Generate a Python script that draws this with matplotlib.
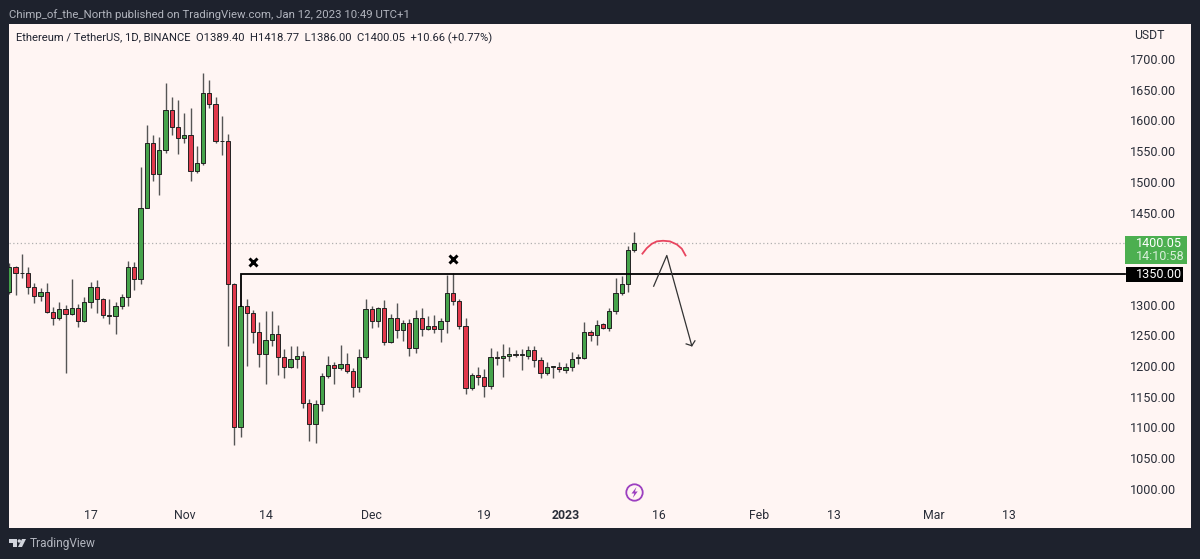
import numpy as np
import pandas as pd
import matplotlib
matplotlib.use('Agg')
import matplotlib.pyplot as plt
import matplotlib.dates as mdates
from matplotlib.patches import Rectangle, Circle, Polygon

plt.rcParams['font.family'] = ['Roboto', 'DejaVu Sans']

# daily candles, 4 Oct 2022 - 12 Jan 2023
opens = [1321, 1361, 1351, 1351, 1329, 1314, 1321, 1288, 1279, 1293,
         1285, 1295, 1273, 1304, 1329, 1309, 1283, 1281, 1297, 1312,
         1362, 1342, 1458, 1564, 1512, 1552, 1617, 1589, 1572, 1577,
         1517, 1530, 1644, 1626, 1567, 1566, 1334, 1101, 1297, 1287,
         1256, 1220, 1242, 1252, 1215, 1199, 1211, 1216, 1140, 1106,
         1138, 1183, 1202, 1197, 1203, 1192, 1166, 1214, 1293, 1274,
         1294, 1239, 1278, 1258, 1270, 1230, 1279, 1261, 1265, 1261,
         1274, 1319, 1306, 1265, 1165, 1186, 1182, 1167, 1215, 1213,
         1217, 1219, 1218, 1217, 1226, 1209, 1189, 1199, 1198, 1194,
         1199, 1213, 1213, 1255, 1250, 1268, 1262, 1289, 1319, 1334, 1389.40]
highs = [1368, 1363, 1382, 1361, 1336, 1327, 1336, 1296, 1305, 1299,
         1341, 1301, 1313, 1337, 1340, 1311, 1309, 1305, 1318, 1371,
         1369, 1524, 1593, 1577, 1573, 1661, 1638, 1634, 1612, 1621,
         1558, 1678, 1666, 1638, 1607, 1578, 1335, 1299, 1309, 1291,
         1272, 1290, 1290, 1267, 1227, 1233, 1233, 1225, 1146, 1144,
         1188, 1216, 1206, 1234, 1222, 1196, 1227, 1309, 1298, 1296,
         1308, 1285, 1303, 1275, 1277, 1291, 1295, 1281, 1283, 1279,
         1349, 1351, 1309, 1279, 1188, 1199, 1195, 1229, 1224, 1236,
         1231, 1226, 1227, 1232, 1232, 1215, 1206, 1200, 1207, 1205,
         1223, 1219, 1271, 1259, 1275, 1270, 1294, 1344, 1346, 1395, 1418.77]
lows = [1318, 1316, 1344, 1317, 1303, 1306, 1287, 1266, 1275, 1189,
        1283, 1263, 1272, 1295, 1286, 1279, 1269, 1252, 1293, 1298,
        1323, 1334, 1457, 1502, 1479, 1547, 1576, 1545, 1563, 1501,
        1514, 1527, 1621, 1563, 1544, 1232, 1072, 1084, 1200, 1238,
        1199, 1170, 1233, 1185, 1180, 1197, 1196, 1132, 1078, 1074,
        1126, 1180, 1170, 1193, 1188, 1150, 1157, 1212, 1262, 1264,
        1235, 1238, 1245, 1240, 1217, 1221, 1249, 1259, 1254, 1239,
        1254, 1300, 1260, 1154, 1161, 1169, 1150, 1162, 1202, 1182,
        1208, 1214, 1193, 1212, 1199, 1180, 1185, 1180, 1190, 1189,
        1192, 1204, 1212, 1241, 1234, 1260, 1257, 1284, 1316, 1320, 1386.00]
closes = [1361, 1351, 1352, 1329, 1314, 1321, 1288, 1279, 1293, 1285,
          1295, 1273, 1304, 1329, 1309, 1283, 1281, 1297, 1312, 1362,
          1342, 1458, 1564, 1512, 1552, 1617, 1589, 1572, 1577, 1517,
          1530, 1644, 1626, 1567, 1567, 1334, 1101, 1297, 1287, 1256,
          1220, 1242, 1252, 1215, 1199, 1211, 1216, 1140, 1106, 1138,
          1183, 1202, 1197, 1203, 1192, 1166, 1214, 1293, 1274, 1294,
          1239, 1278, 1258, 1270, 1230, 1279, 1261, 1265, 1261, 1274,
          1319, 1306, 1265, 1165, 1186, 1182, 1167, 1215, 1213, 1217,
          1219, 1218, 1219, 1226, 1209, 1189, 1199, 1200, 1195, 1199,
          1212, 1214, 1255, 1250, 1267, 1262, 1289, 1319, 1334, 1389.40, 1400.05]

# 1350 and 1400 sit under the price tags, so they get no label of their own
price_ticks = [1000, 1050, 1100, 1150, 1200, 1250, 1300, 1450,
               1500, 1550, 1600, 1650, 1700]
date_ticks = ['2022-10-17', '2022-11-01', '2022-11-14', '2022-12-01', '2022-12-19',
              '2023-01-01', '2023-01-16', '2023-02-01', '2023-02-13', '2023-03-01', '2023-03-13']
date_labels = ['17', 'Nov', '14', 'Dec', '19', '2023', '16', 'Feb', '13', 'Mar', '13']

# hand drawings, x = days after first candle
level = 1350
level_x = [37, 37, 178.5]
level_y = [1297, level, level]
cross_x = [39, 71]
cross_y = [1370, 1374]
arc_x = [101.3, 102, 102.8, 103.6, 104.6, 105.7, 106.8, 107.6, 108.2]
arc_y = [1383, 1392, 1399, 1403, 1404, 1403, 1398, 1391, 1380]
arrow_x = [103.1, 105.2, 109.2]
arrow_y = [1330, 1380, 1233]
head_x = [108.3, 109.2, 109.7]
head_y = [1236, 1233, 1241]

BG = '#1e222d'
PANEL = '#fff5f3'
GREEN = '#46a34b'
RED = '#e2394c'
W, H = 1200, 559

opens = np.array(opens)
closes = np.array(closes)
highs = np.array(highs)
lows = np.array(lows)
dates = pd.date_range('2022-10-04', periods=len(opens))
x = mdates.date2num(dates)
d0 = x[0]
px_per_day = 6.25

fig = plt.figure(figsize=(W / 100, H / 100), dpi=100, facecolor=BG)
ax = fig.add_axes([9 / W, 1 - 527.5 / H, (1191 - 9) / W, (527.5 - 24) / H], facecolor=PANEL)
ax.set_xlim(d0 + (9 - 9.3) / px_per_day, d0 + (1191 - 9.3) / px_per_day)
ax.set_ylim(937, 1757)
for s in ax.spines.values():
    s.set_visible(False)

ax.axhline(closes[-1], color='#b0b0b0', lw=0.9, ls=(0, (1, 2)), xmax=(1125 - 9) / (1191 - 9), zorder=1)

# candles
colors = [GREEN if c >= o else RED for o, c in zip(opens, closes)]
ax.vlines(x, lows, highs, color='#555555', lw=1.0, zorder=2)
ax.bar(x, np.abs(closes - opens), bottom=np.minimum(opens, closes), width=0.68,
       color=colors, edgecolor='#222222', linewidth=0.7, zorder=3)

# drawings
ax.plot(d0 + np.array(level_x), level_y, color='black', lw=1.3, zorder=4, solid_joinstyle='miter')
ax.plot(d0 + np.array(cross_x), cross_y, ls='none', marker='x', ms=6, mew=2.1, color='black', zorder=4)
ax.plot(d0 + np.array(arc_x), arc_y, color='#e8455f', lw=1.3, zorder=4)
ax.plot(d0 + np.array(arrow_x), arrow_y, color='#333333', lw=0.9, zorder=4)
ax.plot(d0 + np.array(head_x), head_y, color='#333333', lw=0.9, zorder=4)

ax.yaxis.tick_right()
ax.set_yticks(price_ticks)
ax.set_yticklabels(['%.2f' % p for p in price_ticks])
ax.tick_params(axis='y', length=0, pad=-11, labelsize=9.1, labelcolor='#2a2e39')
for t in ax.get_yticklabels():
    t.set_ha('right')
ax.set_xticks(mdates.date2num(pd.to_datetime(date_ticks)))
ax.set_xticklabels(date_labels)
ax.tick_params(axis='x', length=0, pad=-8.3, labelsize=8.8, labelcolor='#2a2e39')
for t, lab in zip(ax.get_xticklabels(), date_labels):
    t.set_va('center')
    if lab == '2023':
        t.set_fontweight('bold')

# page furniture, in pixels
over = fig.add_axes([0, 0, 1, 1], facecolor='none')
over.set_xlim(0, W)
over.set_ylim(H, 0)
over.axis('off')

over.text(9, 14.5, 'Chimp_of_the_North published on TradingView.com, Jan 12, 2023 10:49 UTC+1',
          color='#b2b5be', fontsize=8.2, va='center')
over.text(16, 38, 'Ethereum / TetherUS, 1D, BINANCE  O1389.40  H1418.77  L1386.00  C1400.05  +10.66 (+0.77%)',
          color='#1f2330', fontsize=8.15, va='center')
over.text(1134, 35.5, 'USDT', color='#2a2e39', fontsize=8.8, va='center')

over.add_patch(Rectangle((1125, 236), 62, 28, fc='#4caf50', ec='none'))
over.text(1135.5, 243.5, '%.2f' % closes[-1], color='white', fontsize=9.1, va='center')
over.text(1135.5, 256.5, '14:10:58', color='#d9efda', fontsize=9.1, va='center')
over.add_patch(Rectangle((1126, 267), 57, 15, fc='black', ec='none'))
over.text(1135.5, 274.5, '%.2f' % level, color='white', fontsize=9.1, va='center')

# lightning icon
over.add_patch(Circle((634.5, 492.5), 8.2, fc='none', ec='#9c3fc0', lw=1.3))
over.add_patch(Polygon([(636.5, 487), (631.5, 493.5), (634.3, 493.5), (632.8, 498), (637.7, 491.5),
                        (634.9, 491.5)], fc='#9c3fc0', ec='none'))

# TradingView logo
over.add_patch(Polygon([(9, 539), (17, 539), (17, 547), (13, 547), (13, 542.5), (9, 542.5)],
                       fc='#d1d4dc', ec='none'))
over.add_patch(Circle((19.3, 541), 1.7, fc='#d1d4dc', ec='none'))
over.add_patch(Polygon([(22, 539), (26, 539), (22, 547), (18, 547)], fc='#d1d4dc', ec='none'))
over.text(30, 544, 'TradingView', color='#b2b5be', fontsize=8.55, va='center')

fig.savefig('out.png', dpi=100, facecolor=BG)
